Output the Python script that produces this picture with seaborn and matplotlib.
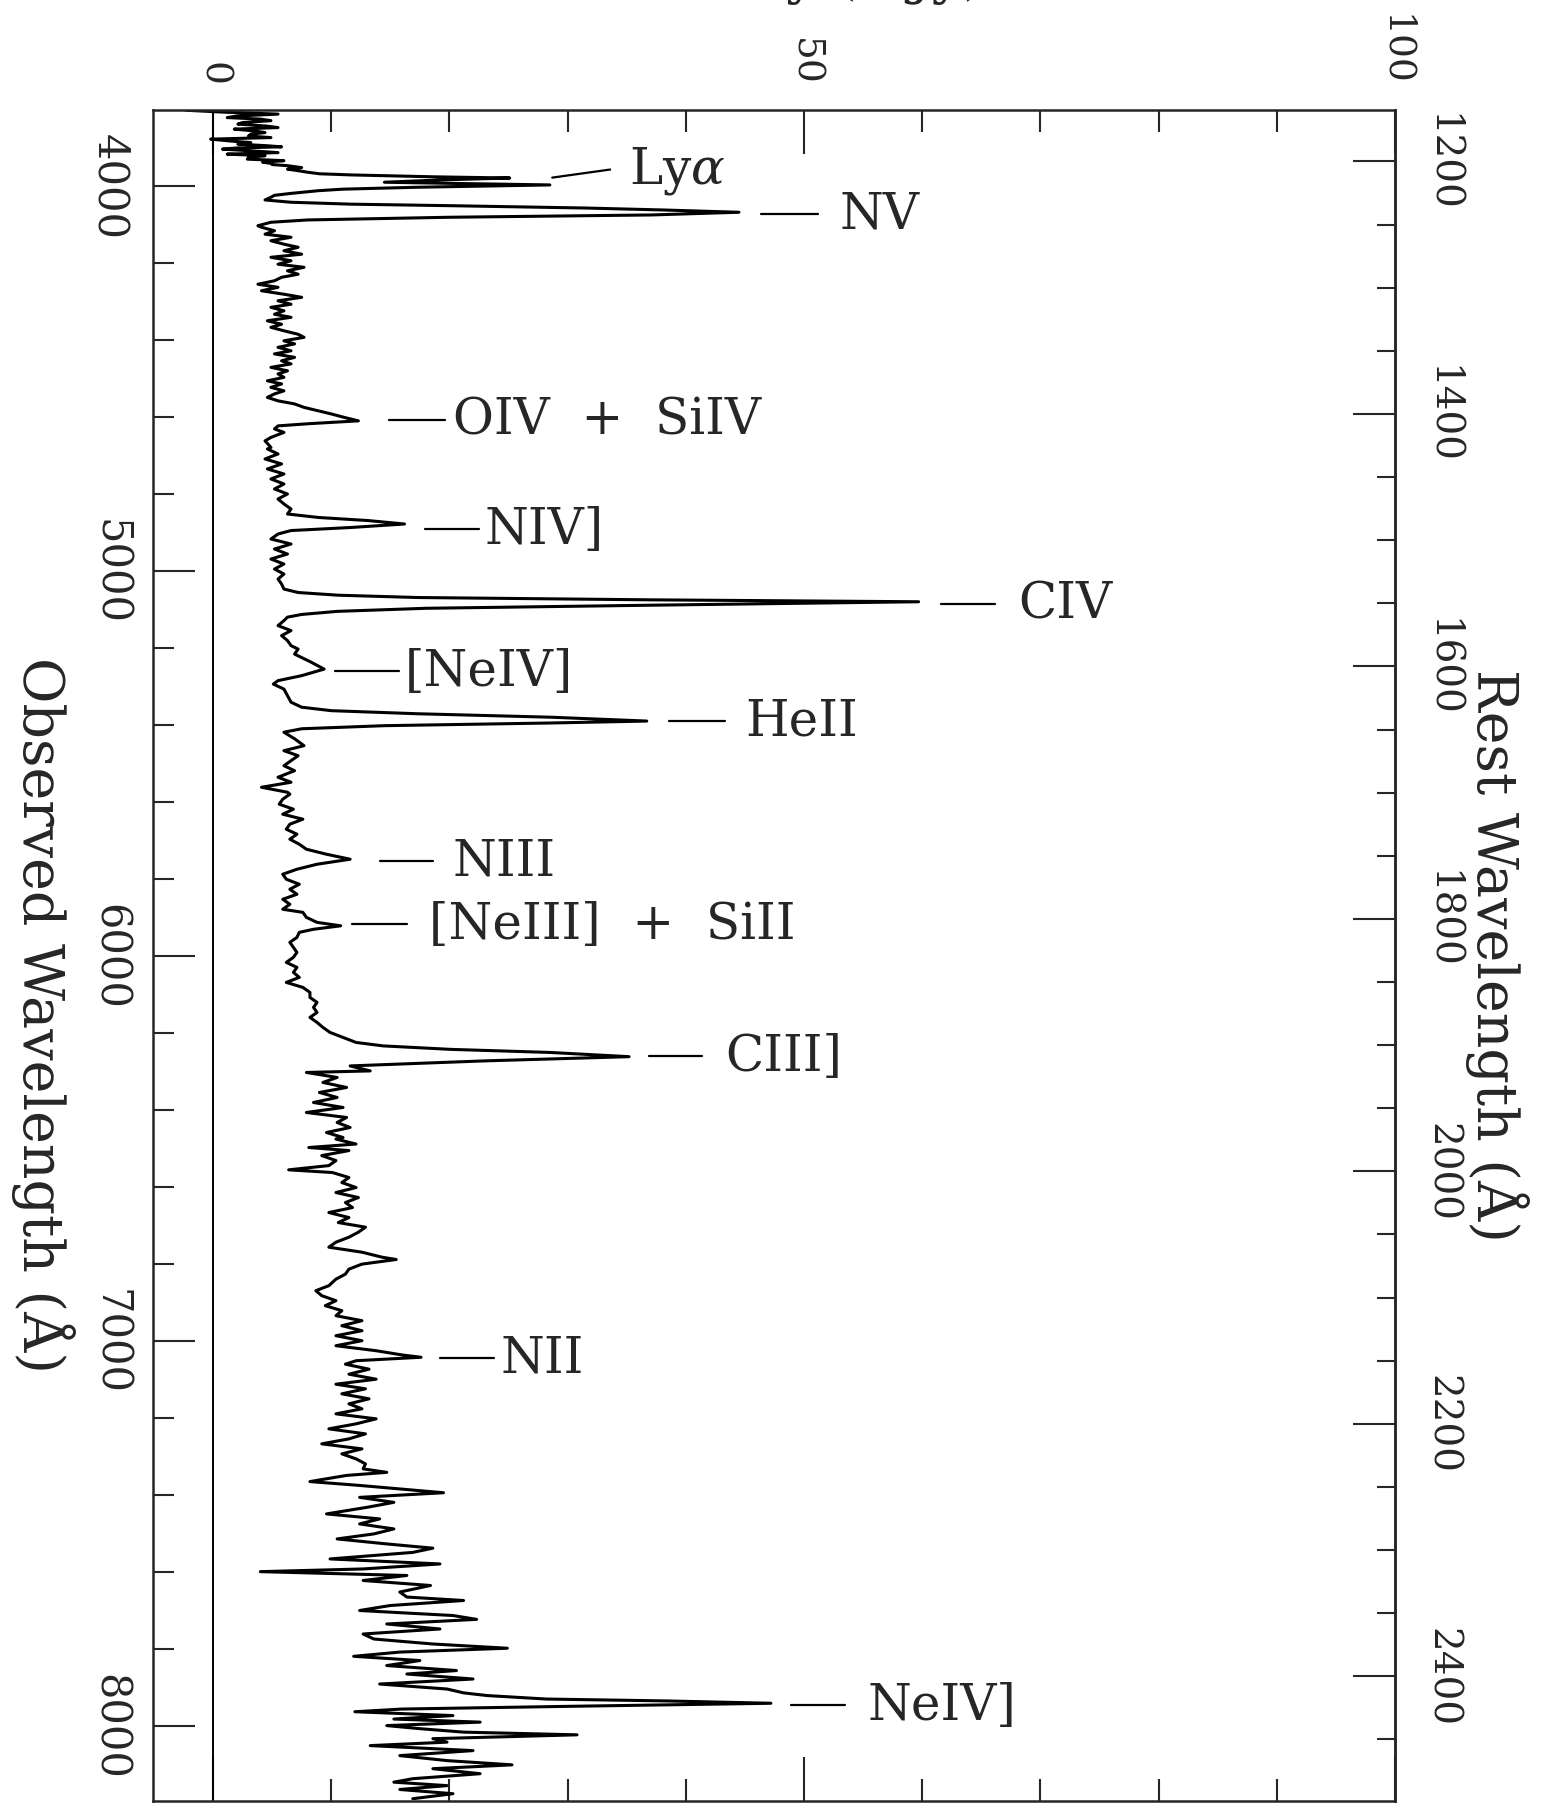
import numpy as np
import matplotlib
matplotlib.use("Agg")
import matplotlib.pyplot as plt
from matplotlib.ticker import MultipleLocator, FixedLocator
import seaborn as sns

# observed wavelength (A) and flux density (mJy)
wave_lya = [3803, 3808, 3813, 3818, 3822, 3826, 3830, 3835, 3839, 3844,
            3848, 3852, 3857, 3861, 3865, 3870, 3874, 3878, 3883, 3887,
            3891, 3895, 3898, 3901, 3904, 3909, 3913, 3917, 3921, 3926,
            3930, 3934, 3938, 3941, 3944, 3947, 3952, 3956, 3960, 3964,
            3968, 3971, 3976, 3979, 3984, 3990, 3993, 3997, 4003, 4008,
            4012, 4019, 4024, 4029, 4036, 4042, 4047, 4051, 4057, 4062,
            4068, 4075, 4081, 4088, 4094, 4103]
flux_lya = [-2.3, 1.0, 5.5, 2.0, 1.2, 4.0, 4.9, 2.5, 2.1, 4.5,
            5.5, 1.8, 3.6, 4.4, 3.2, 3.0, 4.9, -0.2, 1.5, 3.2,
            2.1, 4.5, 5.8, 2.0, 0.8, 3.5, 5.5, 1.2, 4.4, 3.0,
            2.9, 6.0, 4.2, 4.9, 5.0, 6.3, 7.5, 6.3, 7.2, 8.0,
            9.0, 11.7, 18.8, 25.1, 19.3, 14.5, 20.2, 28.5, 17.3, 11.0,
            8.9, 6.6, 5.2, 4.9, 4.4, 6.6, 11.7, 20.2, 31.5, 38.0,
            44.5, 37.1, 20.0, 8.0, 4.9, 3.8]

wave_oiv = [4107, 4116, 4125, 4133, 4142, 4151, 4159, 4168, 4177, 4185,
            4194, 4203, 4211, 4220, 4229, 4237, 4246, 4255, 4263, 4272,
            4281, 4289, 4298, 4307, 4315, 4324, 4333, 4341, 4350, 4359,
            4367, 4376, 4385, 4393, 4402, 4410, 4419, 4428, 4436, 4445,
            4454, 4462, 4471, 4480, 4488, 4497, 4506, 4514, 4523, 4532,
            4540, 4549, 4558, 4566, 4575, 4584, 4592, 4601, 4610, 4617,
            4623, 4631, 4640, 4653, 4662, 4679]
flux_oiv = [4.1, 5.2, 4.4, 6.6, 4.9, 6.0, 7.2, 6.0, 7.5, 4.9,
            6.6, 5.5, 7.7, 6.3, 7.2, 5.8, 5.2, 3.8, 5.5, 4.1,
            6.0, 7.5, 5.5, 6.6, 4.9, 6.0, 5.2, 6.6, 4.6, 5.8,
            4.9, 6.0, 7.2, 7.7, 6.0, 6.9, 5.5, 6.6, 5.2, 6.9,
            5.8, 6.6, 4.9, 6.3, 5.5, 6.0, 4.6, 5.8, 4.9, 6.0,
            5.2, 4.6, 5.5, 6.9, 7.7, 8.9, 10.0, 11.1, 12.3, 8.3,
            5.5, 5.2, 6.0, 4.9, 4.4, 4.9]

wave_civ = [4683, 4696, 4709, 4722, 4735, 4748, 4761, 4774, 4787, 4800,
            4813, 4826, 4839, 4852, 4861, 4869, 4878, 4887, 4895, 4904,
            4917, 4930, 4943, 4956, 4969, 4982, 4995, 5008, 5021, 5034,
            5047, 5056, 5063, 5069, 5075, 5080, 5089, 5097, 5105, 5113,
            5120, 5129, 5142, 5155, 5168, 5181, 5194, 5203, 5216, 5237,
            5255, 5272, 5285, 5294, 5307, 5324, 5341, 5354, 5363, 5371,
            5380, 5390, 5395, 5402, 5410, 5419, 5436, 5454, 5467, 5480,
            5493, 5506, 5519, 5536, 5549, 5562, 5575]
flux_civ = [4.6, 5.5, 4.4, 5.8, 4.6, 6.0, 4.9, 6.0, 5.2, 6.3,
            5.5, 6.0, 6.6, 6.3, 8.9, 13.1, 16.2, 11.7, 6.6, 5.5,
            4.9, 6.6, 5.2, 6.3, 4.9, 6.0, 5.2, 6.0, 5.5, 5.8,
            6.0, 7.2, 10.6, 17.3, 37.0, 59.7, 37.0, 18.0, 10.5, 7.5,
            6.3, 6.0, 5.5, 6.6, 5.8, 6.3, 6.6, 7.2, 6.9, 8.3,
            9.4, 7.5, 5.5, 5.1, 6.0, 6.3, 6.6, 7.5, 10.0, 17.3,
            28.6, 36.7, 28.6, 14.5, 7.5, 6.0, 6.9, 7.7, 6.0, 7.2,
            6.6, 6.0, 6.9, 5.5, 6.6, 4.1, 6.3]

wave_ciii = [5580, 5593, 5606, 5619, 5632, 5645, 5658, 5671, 5684, 5697,
             5710, 5723, 5736, 5749, 5762, 5775, 5788, 5801, 5814, 5827,
             5840, 5853, 5866, 5879, 5887, 5900, 5913, 5922, 5931, 5939,
             5952, 5965, 5978, 5991, 6004, 6017, 6030, 6043, 6056, 6069,
             6082, 6095, 6108, 6121, 6134, 6147, 6160, 6173, 6186, 6199,
             6212, 6225, 6234, 6243, 6251, 6262, 6273, 6286, 6299, 6303,
             6316, 6329, 6342, 6355, 6368, 6381, 6394, 6407, 6420, 6433,
             6446, 6459, 6472]
flux_ciii = [6.5, 5.9, 5.6, 6.8, 5.9, 7.6, 6.5, 6.2, 7.1, 6.5,
             7.3, 7.9, 9.6, 11.6, 8.8, 7.1, 5.9, 6.2, 7.3, 6.5,
             7.1, 5.9, 6.5, 5.9, 7.6, 7.9, 8.8, 10.8, 8.5, 7.3,
             7.1, 6.5, 6.8, 7.1, 6.8, 6.2, 7.1, 6.8, 7.3, 6.2,
             7.6, 8.2, 8.2, 8.8, 8.5, 8.8, 8.2, 8.8, 9.3, 9.9,
             11.0, 12.1, 14.4, 20.1, 28.5, 35.2, 22.9, 11.6, 13.3, 7.9,
             10.5, 9.3, 11.3, 9.0, 10.5, 8.5, 11.0, 7.9, 11.3, 10.5,
             11.6, 9.6, 11.0]

wave_nii = [6476, 6489, 6498, 6506, 6519, 6532, 6545, 6556, 6563, 6576,
            6589, 6602, 6615, 6628, 6641, 6654, 6667, 6680, 6693, 6705,
            6718, 6731, 6744, 6757, 6770, 6783, 6789, 6801, 6814, 6827,
            6840, 6857, 6870, 6883, 6896, 6909, 6922, 6935, 6948, 6961,
            6974, 6987, 7000, 7013, 7026, 7037, 7043, 7052, 7061, 7074,
            7087, 7100, 7113, 7125, 7138, 7151, 7164, 7177, 7190, 7203,
            7216, 7229, 7242, 7255, 7268, 7281, 7294, 7307, 7320]
flux_nii = [10.4, 12.1, 8.1, 11.5, 9.2, 10.4, 9.8, 6.4, 10.1, 11.5,
            10.9, 12.1, 10.4, 12.3, 11.2, 11.8, 9.8, 11.5, 10.6, 12.9,
            12.3, 11.5, 10.4, 9.8, 12.6, 14.3, 15.5, 12.6, 11.5, 11.2,
            10.4, 9.8, 8.7, 9.2, 10.4, 9.5, 10.9, 10.4, 12.6, 10.9,
            12.6, 10.4, 12.6, 10.4, 13.8, 16.0, 17.6, 12.1, 11.2, 13.2,
            11.5, 13.8, 10.4, 12.9, 10.9, 13.2, 11.5, 12.6, 10.4, 13.8,
            12.1, 9.8, 12.9, 11.5, 9.2, 12.6, 10.9, 12.1, 12.9]

wave_neiv = [7333, 7342, 7350, 7366, 7376, 7385, 7395, 7407, 7420, 7433,
             7450, 7463, 7476, 7489, 7502, 7515, 7528, 7539, 7550, 7567,
             7580, 7593, 7600, 7610, 7623, 7636, 7653, 7666, 7675, 7688,
             7701, 7714, 7724, 7736, 7749, 7762, 7775, 7788, 7799, 7809,
             7820, 7831, 7844, 7857, 7866, 7879, 7892, 7905, 7915, 7922,
             7931, 7936, 7942, 7950, 7957, 7964, 7974, 7983, 7991, 8000,
             8008, 8017, 8024, 8034, 8043, 8052, 8065, 8078, 8091, 8102,
             8112, 8125, 8138, 8147, 8156, 8166, 8177, 8190]
flux_neiv = [12.7, 14.7, 11.3, 8.2, 12.4, 15.8, 19.5, 12.4, 15.3, 13.0,
             9.6, 14.1, 12.4, 15.3, 13.6, 10.5, 14.7, 18.6, 16.9, 9.9,
             19.2, 12.7, 4.0, 16.4, 12.7, 18.4, 15.8, 16.4, 21.2, 15.0,
             12.4, 20.3, 22.3, 14.7, 19.2, 12.7, 13.6, 18.6, 24.9, 15.8,
             11.9, 17.5, 14.7, 20.6, 16.4, 22.0, 14.1, 19.8, 21.2, 23.2,
             28.2, 38.5, 47.2, 30.0, 16.0, 12.0, 20.3, 15.3, 22.6, 14.7,
             17.5, 21.2, 30.8, 18.6, 19.8, 13.3, 22.0, 15.8, 19.8, 25.3,
             18.6, 22.6, 16.9, 15.3, 19.8, 15.8, 20.3, 16.9]

# emission line labels
line_names = ["Ly$\\alpha$", "NV", "OIV  +  SiIV", "NIV]", "CIV", "[NeIV]",
              "HeII", "NIII", "[NeIII]  +  SiII", "CIII]", "NII", "NeIV]"]
label_wave = [3957, 4073, 4607, 4891, 5086, 5260, 5390, 5754, 5917, 6261, 7045, 7947]
dash_wave0 = [3978, 4073, 4607, 4891, 5086, 5260, 5390, 5754, 5917, 6261, 7045, 7947]
dash_start = [28.7, 46.4, 14.9, 17.9, 61.6, 10.3, 38.6, 14.1, 11.8, 36.9, 19.2, 48.9]
dash_end = [33.6, 51.2, 19.6, 22.5, 66.2, 15.7, 43.3, 18.6, 16.4, 41.4, 23.8, 53.5]
text_flux = [35.2, 53.0, 20.3, 23.0, 68.1, 16.2, 45.0, 20.3, 18.3, 43.3, 24.3, 55.4]

flux_ticks = [0, 50, 100]
rest_ticks = [1200, 1400, 1600, 1800, 2000, 2200, 2400]
one_plus_z = 3.28

wave = np.concatenate([wave_lya, wave_oiv, wave_civ, wave_ciii, wave_nii, wave_neiv])
flux = np.concatenate([flux_lya, flux_oiv, flux_civ, flux_ciii, flux_nii, flux_neiv])

sns.set_style("ticks")
plt.rcParams['font.family'] = ['DejaVu Serif']
plt.rcParams['mathtext.fontset'] = 'dejavuserif'

fig = plt.figure(figsize=(15.46, 18.06), dpi=100)
ax = fig.add_axes([0.0988, 0.0022, 0.8035, 0.9363])

sns.lineplot(x=flux, y=wave, sort=False, estimator=None, color='black',
             linewidth=2.2, ax=ax)
ax.axvline(0, color='black', lw=1.4)

ax.set_xlim(-5.1, 100)
ax.set_ylim(8196, 3802.5)
ax.set_xlabel('')
ax.set_ylabel('')

for sp in ax.spines.values():
    sp.set_linewidth(1.8)

ax.xaxis.set_major_locator(FixedLocator(flux_ticks))
ax.xaxis.set_minor_locator(MultipleLocator(10))
ax.yaxis.set_major_locator(MultipleLocator(1000))
ax.yaxis.set_minor_locator(MultipleLocator(200))

ax.tick_params(axis='x', which='both', direction='in', top=True, bottom=True,
               labeltop=True, labelbottom=False, labelrotation=-90,
               labelsize=27, pad=18, width=1.5)
ax.tick_params(axis='x', which='major', length=32)
ax.tick_params(axis='x', which='minor', length=16)
ax.tick_params(axis='y', which='both', direction='in', left=True, right=False,
               labelrotation=-90, labelsize=30, pad=16, width=1.5)
ax.tick_params(axis='y', which='major', length=30)
ax.tick_params(axis='y', which='minor', length=15)
for lab in ax.get_yticklabels():
    lab.set_va('center')

sec = ax.secondary_yaxis('right', functions=(lambda w: w / one_plus_z,
                                             lambda r: r * one_plus_z))
sec.yaxis.set_major_locator(FixedLocator(rest_ticks))
sec.yaxis.set_minor_locator(MultipleLocator(50))
sec.tick_params(which='both', direction='in', labelrotation=-90,
                labelsize=28, pad=20, width=1.5)
sec.tick_params(which='major', length=30)
sec.tick_params(which='minor', length=13)
sec.spines['right'].set_linewidth(1.8)
for lab in sec.get_yticklabels():
    lab.set_va('center')

for name, wy, wy0, x0, x1, tx in zip(line_names, label_wave, dash_wave0,
                                     dash_start, dash_end, text_flux):
    ax.plot([x0, x1], [wy0, wy], color='black', lw=1.6)
    ax.text(tx, wy, name, fontsize=36, ha='left', va='center')

fig.text(43 / 1546, 1 - 1015 / 1806, "Observed Wavelength (Å)", rotation=-90,
         ha='center', va='center', fontsize=40)
fig.text(1497 / 1546, 1 - 955 / 1806, "Rest Wavelength (Å)", rotation=-90,
         ha='center', va='center', fontsize=40)
# axis title sits almost completely above the page edge, as in the scan
fig.text(985 / 1546, 1 - 5 / 1806, "Flux density (mJy)", ha='right',
         va='bottom', fontsize=40)

fig.savefig("out.png", dpi=100)
